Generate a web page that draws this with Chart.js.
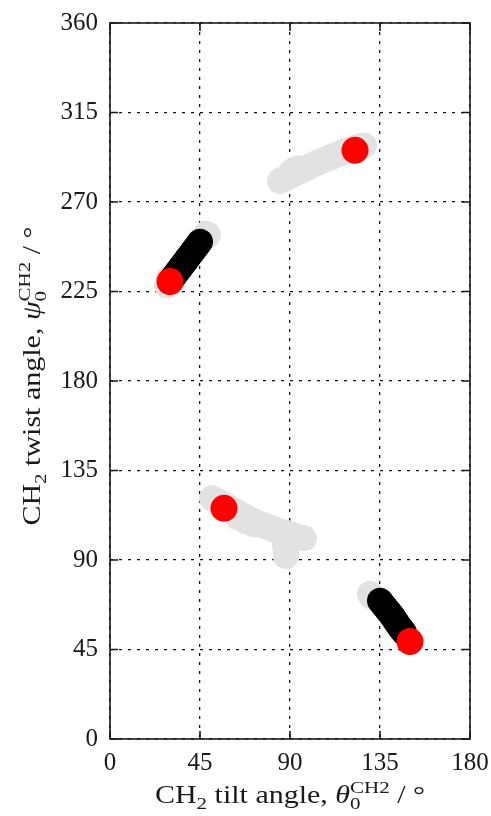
<!DOCTYPE html>
<html>
<head>
<meta charset="utf-8">
<script src="https://cdn.jsdelivr.net/npm/chart.js@4.4.1/dist/chart.umd.min.js"></script>
<style>
  html, body { margin: 0; padding: 0; background: #fff; }
</style>
</head>
<body>
<canvas id="angleChart" width="491" height="816"></canvas>
<script>
const xTicks = [0, 45, 90, 135, 180];
const yTicks = [0, 45, 90, 135, 180, 225, 270, 315, 360];

// sampled orientations, [tilt, twist] (light grey)
const greyNearA = [[28.5, 228], [29, 231], [30.5, 229], [46, 251], [47.5, 252.5], [49, 253.5], [48, 254]];
const greyUpper = [
    [85, 280.5], [86.5, 281.3], [88, 282], [89.5, 282.8], [91, 283.5], [92.5, 284.3], [94, 285],
    [95.5, 285.8], [97, 286.5], [98.5, 287.2], [100, 288], [101.5, 288.7], [103, 289.4], [104.5, 290],
    [106, 290.7], [107.5, 291.3], [109, 292], [110.5, 292.6], [112, 293.2], [113.5, 293.8], [115, 294.4],
    [116.5, 295], [118, 295.6], [119.5, 296.2], [121, 296.7], [122.5, 297.2], [124, 297.6], [125.5, 298],
    [127, 298.4], [91, 285.5], [94, 287]
];
const greyLower = [
    [51, 121], [52.5, 120.3], [54, 119.5], [55.5, 118.7], [57, 117.9], [58.5, 117], [60, 116.1],
    [61.5, 115.2], [63, 114.3], [64.5, 113.4], [66, 112.5], [67.5, 111.7], [69, 110.9], [70.5, 110.1],
    [72, 109.4], [73.5, 108.7], [75, 108.1], [76.5, 107.5], [78, 107], [79.5, 106.4], [81, 105.8],
    [82.5, 105.2], [84, 104.7], [85.5, 104.2], [87, 103.8], [88.5, 103.4], [90, 103], [91.5, 102.5],
    [93, 102], [94.5, 101.6], [96, 101.2], [97, 100.9],
    [64, 111.5], [68, 109.5], [72, 107.8],
    [87.5, 99], [87.5, 97], [88, 95], [88, 93.5], [88, 92]
];
const greyNearB = [[130, 73], [131, 71.5]];

// orientations kept after relaxation, [tilt, twist] (black)
const blackA = [[30, 230], [31, 231.3], [32, 232.6], [33, 234], [34, 235.3], [35, 236.6], [36, 238],
    [37, 239.3], [38, 240.6], [39, 242], [40, 243.3], [41, 244.6], [42, 246], [43, 247.3], [44, 248.6], [45, 250]];
const blackB = [[135, 69.5], [136, 68.2], [137, 67], [138, 65.7], [139, 64.5], [140, 63.2], [141, 62],
    [142, 60.5], [143, 59], [144, 57.5], [145, 56], [146, 54.8], [147, 53.5]];

// energy minima (red)
const minTilt = [122.5, 30, 57, 150];
const minTwist = [296, 230, 116, 49];

const pairs = list => list.map(p => ({ x: p[0], y: p[1] }));

const FONT = "'Liberation Serif', 'Times New Roman', serif";
const SIZE = 25;
const STRETCH = 1.2;

const xTitle = [['CH'], ['2', 'sub'], [' tilt angle, '], ['θ', 'it'], ['0', 'subsup', 'CH2'], [' / °']];
const yTitle = [['CH'], ['2', 'sub'], [' twist angle, '], ['ψ', 'it'], ['0', 'subsup', 'CH2'], [' / °']];

function partWidth(ctx, p) {
    const small = SIZE * 0.7;
    if (p[1] === 'sub') {
        ctx.font = small + 'px ' + FONT;
        return ctx.measureText(p[0]).width;
    }
    if (p[1] === 'subsup') {
        ctx.font = small + 'px ' + FONT;
        return Math.max(ctx.measureText(p[0]).width, ctx.measureText(p[2]).width);
    }
    ctx.font = (p[1] === 'it' ? 'italic ' : '') + SIZE + 'px ' + FONT;
    return ctx.measureText(p[0]).width;
}

// draws a title with sub/superscripts, centred on cx, slightly widened
function drawRich(ctx, parts, cx, baseY) {
    const total = parts.reduce((s, p) => s + partWidth(ctx, p), 0);
    const small = SIZE * 0.7;
    ctx.save();
    ctx.translate(cx, baseY);
    ctx.scale(STRETCH, 1);
    let x = -total / 2;
    ctx.textAlign = 'left';
    ctx.textBaseline = 'alphabetic';
    parts.forEach(p => {
        const w = partWidth(ctx, p);
        if (p[1] === 'sub') {
            ctx.font = small + 'px ' + FONT;
            ctx.fillText(p[0], x, SIZE * 0.22);
        } else if (p[1] === 'subsup') {
            ctx.font = small + 'px ' + FONT;
            ctx.fillText(p[0], x, SIZE * 0.25);
            ctx.fillText(p[2], x, -SIZE * 0.42);
        } else {
            ctx.font = (p[1] === 'it' ? 'italic ' : '') + SIZE + 'px ' + FONT;
            ctx.fillText(p[0], x, 0);
        }
        x += w;
    });
    ctx.restore();
}

// frame, inward tick marks and the two axis titles
const framePlugin = {
    id: 'frame',
    afterDraw(chart) {
        const ctx = chart.ctx;
        const a = chart.chartArea;
        const sx = chart.scales.x, sy = chart.scales.y;
        ctx.save();
        ctx.strokeStyle = '#1a1a1a';
        ctx.lineWidth = 1.6;
        ctx.strokeRect(a.left, a.top, a.right - a.left, a.bottom - a.top);
        ctx.beginPath();
        xTicks.forEach(v => {
            const px = sx.getPixelForValue(v);
            ctx.moveTo(px, a.bottom); ctx.lineTo(px, a.bottom - 8);
            ctx.moveTo(px, a.top); ctx.lineTo(px, a.top + 8);
        });
        yTicks.forEach(v => {
            const py = sy.getPixelForValue(v);
            ctx.moveTo(a.left, py); ctx.lineTo(a.left + 8, py);
            ctx.moveTo(a.right, py); ctx.lineTo(a.right - 8, py);
        });
        ctx.stroke();

        ctx.fillStyle = '#1a1a1a';
        drawRich(ctx, xTitle, (a.left + a.right) / 2, 803);
        ctx.translate(40, 376);
        ctx.rotate(-Math.PI / 2);
        drawRich(ctx, yTitle, 0, 0);
        ctx.restore();
    }
};

const tickFont = { family: FONT, size: SIZE };

new Chart(document.getElementById('angleChart').getContext('2d'), {
    type: 'scatter',
    data: {
        datasets: [
            {
                label: 'minima',
                data: minTilt.map((x, i) => ({ x: x, y: minTwist[i] })),
                backgroundColor: '#ff0000',
                pointRadius: 13.5,
                pointHoverRadius: 13.5,
                borderWidth: 0
            },
            {
                label: 'kept',
                data: pairs(blackA.concat(blackB)),
                backgroundColor: '#000000',
                pointRadius: 13,
                pointHoverRadius: 13,
                borderWidth: 0
            },
            {
                label: 'sampled',
                data: pairs(greyNearA.concat(greyUpper, greyLower, greyNearB)),
                backgroundColor: '#e2e2e2',
                pointRadius: 13,
                pointHoverRadius: 13,
                borderWidth: 0
            }
        ]
    },
    options: {
        responsive: false,
        animation: false,
        devicePixelRatio: 1,
        layout: { padding: { top: 23, right: 21, left: 0, bottom: 0 } },
        plugins: {
            legend: { display: false },
            tooltip: { enabled: false }
        },
        scales: {
            x: {
                type: 'linear',
                min: 0,
                max: 180,
                afterBuildTicks: s => { s.ticks = xTicks.map(v => ({ value: v })); },
                afterFit: s => { s.height = 77; s.paddingLeft = 0; s.paddingRight = 0; },
                grid: { color: '#111', lineWidth: 1.3, drawTicks: false },
                border: { display: false, dash: [3, 6] },
                ticks: { padding: 9, color: '#1a1a1a', font: tickFont, maxRotation: 0 }
            },
            y: {
                type: 'linear',
                min: 0,
                max: 360,
                afterBuildTicks: s => { s.ticks = yTicks.map(v => ({ value: v })); },
                afterFit: s => { s.width = 110; s.paddingTop = 0; s.paddingBottom = 0; },
                grid: { color: '#111', lineWidth: 1.3, drawTicks: false },
                border: { display: false, dash: [3, 6] },
                ticks: { padding: 12, color: '#1a1a1a', font: tickFont }
            }
        }
    },
    plugins: [framePlugin]
});
</script>
</body>
</html>
